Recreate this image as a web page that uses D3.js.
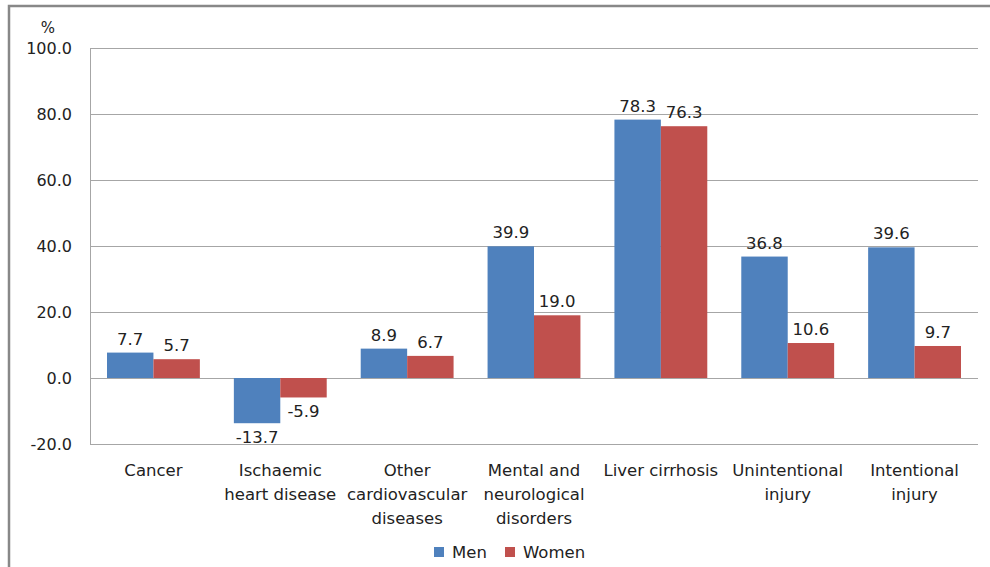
<!DOCTYPE html>
<html><head><meta charset="utf-8">
<script src="https://cdn.jsdelivr.net/npm/d3@7"></script>
<style>body{margin:0;background:#fff}svg{display:block}text{font-family:"DejaVu Sans",sans-serif;fill:#222}</style>
</head><body><svg id="c" width="990" height="567"></svg>
<script>
const categories = [["Cancer"],["Ischaemic","heart disease"],["Other","cardiovascular","diseases"],["Mental and","neurological","disorders"],["Liver cirrhosis"],["Unintentional","injury"],["Intentional","injury"]];
const seriesNames = ["Men","Women"];
const men = [7.7,-13.7,8.9,39.9,78.3,36.8,39.6];
const women = [5.7,-5.9,6.7,19.0,76.3,10.6,9.7];
const yTicks = [-20,0,20,40,60,80,100];
const colors = ["#4F81BD","#C0504D"];

const fmt = d => d3.format(".1f")(d).replace("\u2212","-");
const svg = d3.select("#c");
const L=90,R=978,T=48,B=444;
svg.append("rect").attr("x",9).attr("y",6).attr("width",1000).attr("height",600).attr("fill","none").attr("stroke","#888").attr("stroke-width",2.5);

const x = d3.scaleBand().domain(d3.range(categories.length)).range([L,R]).paddingInner(0).paddingOuter(0);
const y = d3.scaleLinear().domain([-20,100]).range([B,T]);
const bw = x.bandwidth()*0.366;

// gridlines
svg.append("g").selectAll("line").data(yTicks).join("line")
 .attr("x1",L).attr("x2",R).attr("y1",d=>Math.round(y(d))+0.5).attr("y2",d=>Math.round(y(d))+0.5)
 .attr("stroke","#a6a6a6").attr("stroke-width",1);
svg.append("line").attr("x1",L+0.5).attr("x2",L+0.5).attr("y1",T).attr("y2",B).attr("stroke","#a6a6a6");

// y axis labels
const ya = d3.axisLeft(y).tickValues(yTicks).tickFormat(fmt).tickSize(0).tickPadding(18);
const gy = svg.append("g").attr("transform",`translate(${L},0)`).call(ya);
gy.select(".domain").remove();
gy.selectAll("text").style("font-size","16px").style("font-family","DejaVu Sans").attr("fill","#222");
svg.append("text").attr("x",48).attr("y",33).attr("text-anchor","middle").style("font-size","15px").text("%");

const data = [men,women];
data.forEach((vals,si)=>{
  const g = svg.append("g");
  g.selectAll("rect").data(vals).join("rect")
   .attr("x",(d,i)=>x(i)+x.bandwidth()/2 - bw + si*bw)
   .attr("width",bw)
   .attr("y",d=>Math.min(y(d),y(0)))
   .attr("height",d=>Math.abs(y(d)-y(0)))
   .attr("fill",colors[si]);
  g.selectAll("text").data(vals).join("text")
   .attr("x",(d,i)=>x(i)+x.bandwidth()/2 - bw/2 + si*bw)
   .attr("y",d=> d>=0 ? y(d)-8 : y(d)+20)
   .attr("text-anchor","middle").style("font-size","16.5px")
   .text(fmt);
});

// category labels
const cg = svg.append("g");
categories.forEach((lines,i)=>{
  const t = cg.append("text").attr("text-anchor","middle").style("font-size","16.5px");
  lines.forEach((ln,j)=>{
    t.append("tspan").attr("x",x(i)+x.bandwidth()/2).attr("y",476+j*24).text(ln);
  });
});

// legend
const leg = svg.append("g");
const legItems = [{n:seriesNames[0],c:colors[0],x:434},{n:seriesNames[1],c:colors[1],x:505}];
legItems.forEach(it=>{
  leg.append("rect").attr("x",it.x).attr("y",547).attr("width",10).attr("height",10).attr("fill",it.c);
  leg.append("text").attr("x",it.x+18).attr("y",558).style("font-size","16.5px").text(it.n);
});
</script></body></html>
